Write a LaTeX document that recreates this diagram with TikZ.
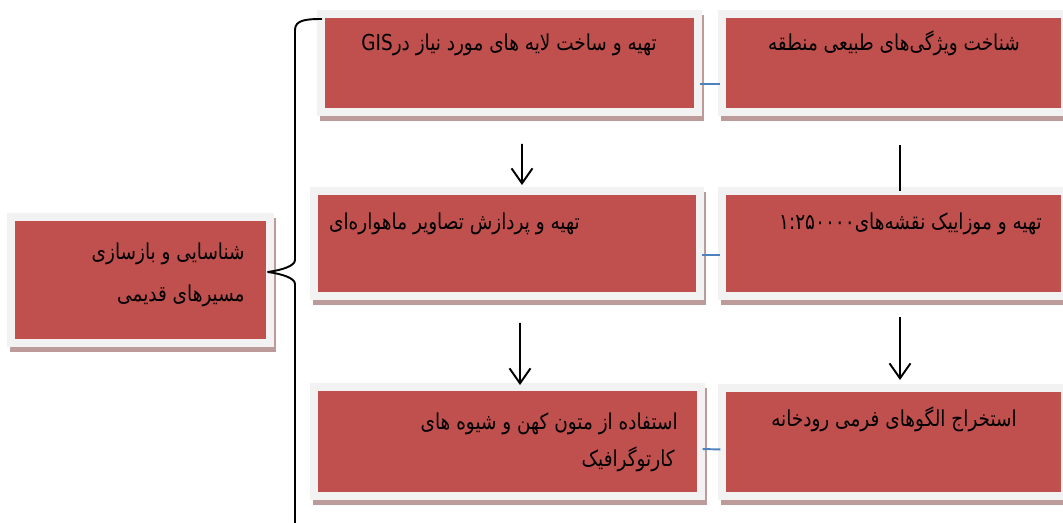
\documentclass[tikz,border=0pt]{standalone}
\usepackage{fontspec}
\newfontfamily\arabicfont[Script=Arabic, FakeStretch=0.84]{DejaVu Sans}
\TeXXeTstate=1
\usepackage{xcolor}
\definecolor{boxred}{RGB}{192,80,77}
\definecolor{framegray}{RGB}{242,242,242}
\definecolor{shadowrose}{RGB}{190,155,155}
\definecolor{linkblue}{RGB}{79,129,189}
\usetikzlibrary{arrows.meta, backgrounds}

\tikzset{
  stepbox/.style={rectangle, fill=boxred, draw=framegray, line width=0.16cm, inner sep=0pt, outer sep=0pt},
  farsi/.style={font=\arabicfont\fontsize{12.5}{15}\selectfont, inner sep=0pt},
  flow/.style={line width=1.1pt, -{Straight Barb[length=0.3cm, width=0.42cm]}},
  link/.style={linkblue, line width=1.1pt},
  brace/.style={line width=1.1pt, line join=round},
}

\begin{document}
\begin{tikzpicture}[x=0.02cm, y=-0.02cm]
  \useasboundingbox (0,0) rectangle (1063,523);
  \clip (0,0) rectangle (1063,523);

  % Boxes
  \node[stepbox, minimum width=5.18cm, minimum height=2.52cm] (route) at (140.5,280) {};
  \node[stepbox, minimum width=7.54cm, minimum height=1.96cm] (gis) at (509.5,63) {};
  \node[stepbox, minimum width=6.86cm, minimum height=1.96cm] (nature) at (893.5,63) {};
  \node[stepbox, minimum width=7.72cm, minimum height=2.10cm] (satellite) at (507,243.5) {};
  \node[stepbox, minimum width=6.86cm, minimum height=2.10cm] (maps) at (893.5,243.5) {};
  \node[stepbox, minimum width=7.74cm, minimum height=2.18cm] (texts) at (507.5,441.5) {};
  \node[stepbox, minimum width=6.86cm, minimum height=2.16cm] (river) at (893.5,442) {};

  % Shadows
  \begin{scope}[on background layer]
    \foreach \n in {route, gis, nature, satellite, maps, texts, river}
      \fill[shadowrose] ([shift={(-1,1)}]\n.north west) rectangle ([shift={(6,9)}]\n.south east);
  \end{scope}

  % Labels
  \node[farsi, anchor=base east] (routea) at (245,260) {\beginR شناسایی و بازسازی\endR};
  \node[farsi, anchor=base east] (routeb) at (245,302) {\beginR مسیرهای قدیمی\endR};
  \node[farsi, anchor=base] (gistxt) at (509,51) {\beginR تهیه و ساخت لایه های مورد نیاز در\beginL GIS\endL\endR};
  \node[farsi, anchor=base] (naturetxt) at (894,51) {\beginR شناخت ویژگی‌های طبیعی منطقه\endR};
  \node[farsi, anchor=base east] (sattxt) at (580,230) {\beginR تهیه و پردازش تصاویر ماهواره‌ای\endR};
  \node[farsi, anchor=base east] (mapstxt) at (1042,230) {\beginR تهیه و موزاییک نقشه‌های\beginL ۱:۲۵۰۰۰۰\endL\endR};
  \node[farsi, anchor=base east] (textsa) at (678,430) {\beginR استفاده از متون کهن و شیوه های\endR};
  \node[farsi, anchor=base east] (textsb) at (675,467) {\beginR کارتوگرافیک\endR};
  \node[farsi, anchor=base] (rivertxt) at (894,427) {\beginR استخراج الگوهای فرمی رودخانه\endR};

  % Arrows
  \draw[flow, shorten <=0.64cm, shorten >=0.12cm] ([xshift=0.25cm]gis.south) -- ([xshift=0.3cm]satellite.north);
  \draw[line width=1.1pt, shorten <=0.66cm] ([xshift=0.13cm]nature.south) -- ([xshift=0.13cm]maps.north);
  \draw[flow, shorten <=0.54cm, shorten >=0.04cm] ([xshift=0.26cm]satellite.south) -- ([xshift=0.25cm]texts.north);
  \draw[flow, shorten <=0.43cm, shorten >=0.16cm] ([xshift=0.13cm]maps.south) -- ([xshift=0.13cm]river.north);

  % Blue links
  \draw[link, shorten <=1pt, shorten >=1pt] ([yshift=-0.42cm]gis.east) -- ([yshift=-0.42cm]nature.west);
  \draw[link, shorten <=1pt, shorten >=1pt] ([yshift=-0.23cm]satellite.east) -- ([yshift=-0.23cm]maps.west);
  \draw[link, shorten <=1pt, shorten >=1pt] ([yshift=-0.15cm]texts.east) -- ([yshift=-0.15cm]river.west);

  % Brace
  \draw[brace] (322,19) .. controls (306,19) and (295,20) .. (295,30) -- (295,260)
    .. controls (295,266) and (282,270) .. (268,272)
    .. controls (282,274) and (295,278) .. (295,284) -- (295,530);
\end{tikzpicture}
\end{document}
